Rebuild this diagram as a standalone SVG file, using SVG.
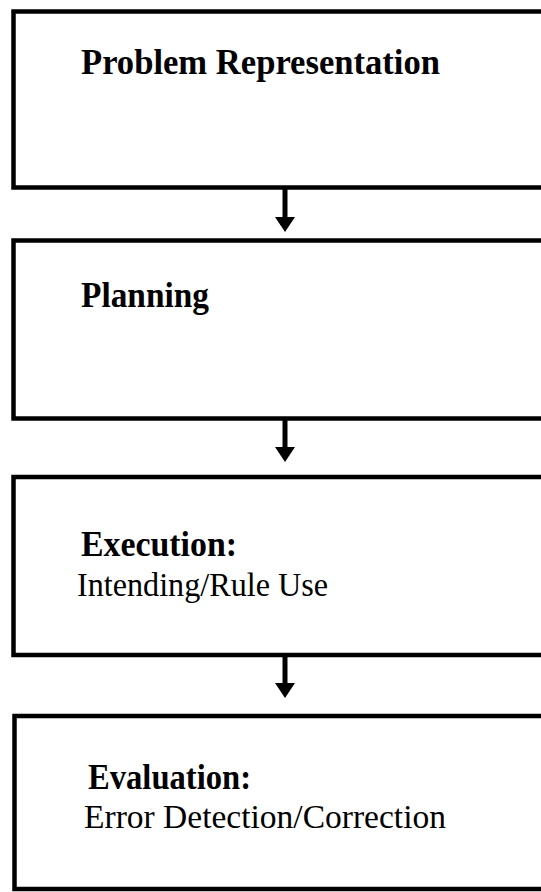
<svg xmlns="http://www.w3.org/2000/svg" width="541" height="892" viewBox="0 0 541 892">
  <style>
    .box { fill: #ffffff; stroke: #000000; stroke-width: 4.5; }
    .title { font-family: "Liberation Serif", "Times New Roman", serif; font-weight: bold; font-size: 35px; fill: #000000; }
    .sub { font-family: "Liberation Serif", "Times New Roman", serif; font-size: 33px; fill: #000000; }
    .shaft { stroke: #000000; stroke-width: 5; fill: none; }
    .head { fill: #000000; }
  </style>
  <rect width="541" height="892" fill="#ffffff"/>

  <!-- process stages -->
  <g id="problem-representation">
    <rect class="box" x="13.5" y="11.5" width="560" height="176"/>
    <text class="title" x="81" y="74" textLength="359" lengthAdjust="spacingAndGlyphs">Problem Representation</text>
  </g>
  <g id="planning">
    <rect class="box" x="13.5" y="240.5" width="560" height="178"/>
    <text class="title" x="81" y="307" textLength="128" lengthAdjust="spacingAndGlyphs">Planning</text>
  </g>
  <g id="execution">
    <rect class="box" x="13.5" y="477" width="560" height="178"/>
    <text class="title" x="81" y="556" textLength="156" lengthAdjust="spacingAndGlyphs">Execution:</text>
    <text class="sub" x="77" y="596" textLength="251" lengthAdjust="spacingAndGlyphs">Intending/Rule Use</text>
  </g>
  <g id="evaluation">
    <rect class="box" x="14.5" y="716" width="560" height="173"/>
    <text class="title" x="88" y="789" textLength="163" lengthAdjust="spacingAndGlyphs">Evaluation:</text>
    <text class="sub" x="84" y="828" textLength="362" lengthAdjust="spacingAndGlyphs">Error Detection/Correction</text>
  </g>

  <!-- downward arrows between stages -->
  <g id="connectors">
    <line class="shaft" x1="285" y1="189" x2="285" y2="218"/>
    <polygon class="head" points="275,217 295,217 285,232"/>
    <line class="shaft" x1="285" y1="420" x2="285" y2="448"/>
    <polygon class="head" points="275,447 295,447 285,462"/>
    <line class="shaft" x1="285" y1="657" x2="285" y2="684"/>
    <polygon class="head" points="275,683 295,683 285,698"/>
  </g>
</svg>
